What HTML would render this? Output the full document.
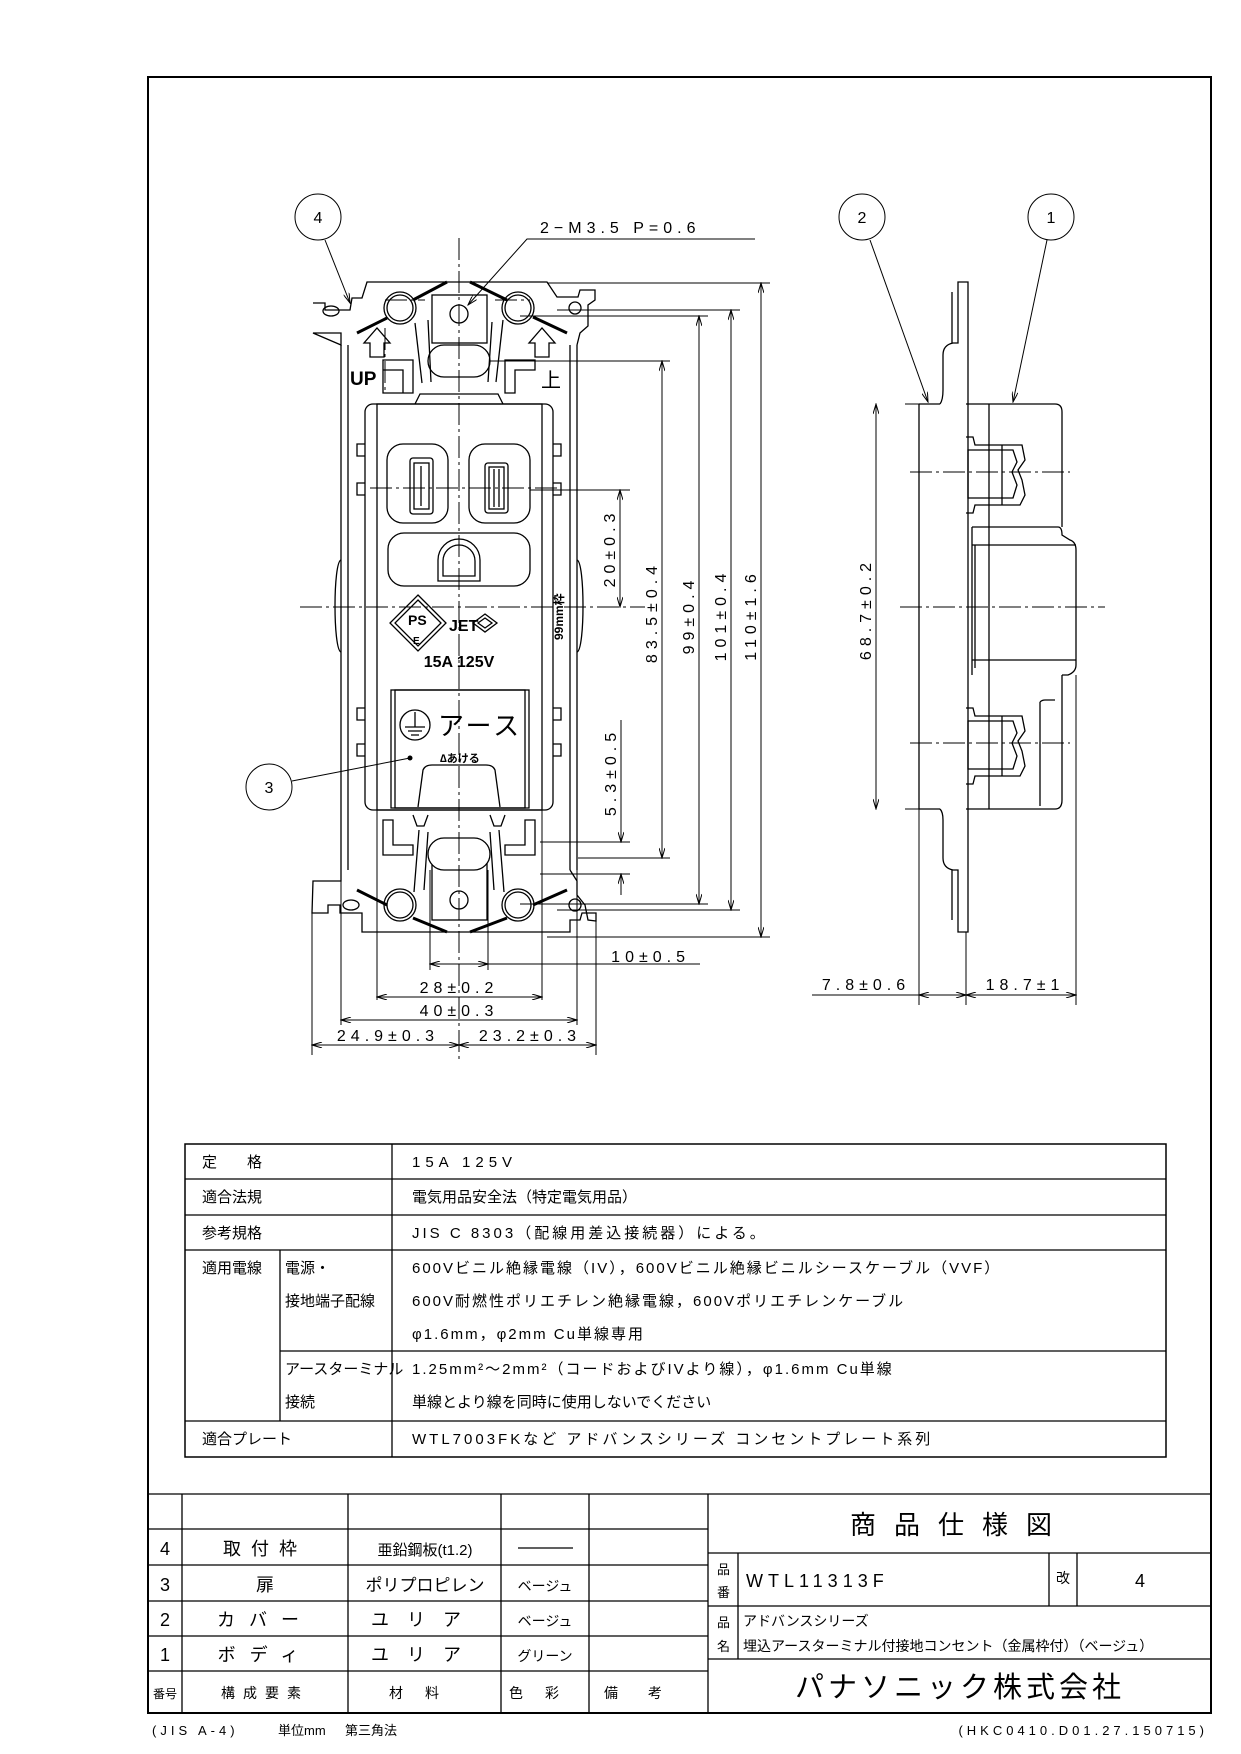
<!DOCTYPE html>
<html><head><meta charset="utf-8"><style>
body{margin:0;background:#fff}
svg{display:block}
text{font-family:"Liberation Sans","Noto Sans CJK JP",sans-serif;fill:#000}
.d{font-size:16px;letter-spacing:5px}
.t{font-size:15px}
</style></head><body>
<svg width="1241" height="1754" viewBox="0 0 1241 1754" xmlns="http://www.w3.org/2000/svg">
<defs>
<marker id="a" viewBox="0 0 10 6" refX="10" refY="3" markerWidth="12" markerHeight="6" orient="auto-start-reverse" markerUnits="userSpaceOnUse"><path d="M0,0 L10,3 L0,6" fill="none" stroke="#000" stroke-width="1"/></marker>
</defs>
<!-- page frame -->
<rect x="148" y="77" width="1063" height="1636" fill="none" stroke="#000" stroke-width="2"/>

<g fill="none" stroke="#000" stroke-width="1.3">
<!-- ===== FRONT VIEW ===== -->
<path d="M313,303 L325,303 L325,310 L350,310 L352,298 L362,298 L367,282 L547,282 L557,297 L578,297 L580,290 L595,290 L595,300 L588,305 L588,326 L580,333 L577,345 M341,345 L341,333 L313,333 Z"/>
<path d="M357,333 L387,318 M413,300 L447,282 M470,282 L507,300 M533,317 L567,333" stroke-width="3"/>
<ellipse cx="331" cy="311" rx="8" ry="5"/>
<circle cx="575" cy="308" r="6"/>
<circle cx="400" cy="308" r="16"/><circle cx="400" cy="308" r="13"/>
<circle cx="518" cy="308" r="16"/><circle cx="518" cy="308" r="13"/>
<circle cx="459" cy="314" r="9"/>
<rect x="432" y="295" width="55" height="48"/>
<rect x="428" y="345" width="62" height="32" rx="16" fill="#fff"/>
<path d="M415,323 L422,383 M428,320 L431,382 M503,320 L496,382 M492,322 L488,382"/>
<path d="M370,357 L370,343 L364,343 L377,328 L390,343 L384,343 L384,357 Z"/>
<path d="M535,357 L535,343 L529,343 L542,328 L555,343 L549,343 L549,357 Z"/>
<path d="M383,360 L413,360 L413,393 L403,393 L403,370 L383,370 Z M383,370 L383,393 L403,393"/>
<path d="M505,360 L535,360 L535,370 L515,370 L515,393 L505,393 Z"/>
<path d="M341,345 L341,870 M348,345 L348,870 M570,345 L570,870 M577,345 L577,870"/>
<path d="M341,560 C333,562 333,650 341,652 M577,560 C585,562 585,650 577,652"/>
<rect x="365" y="404" width="188" height="406" rx="8"/>
<rect x="377" y="404" width="165" height="406"/>
<path d="M365,444 h-8 v12 h8 M365,483 h-8 v12 h8 M365,708 h-8 v12 h8 M365,744 h-8 v12 h8 M553,444 h8 v12 h-8 M553,483 h8 v12 h-8 M553,708 h8 v12 h-8 M553,744 h8 v12 h-8"/>
<path d="M415,404 L420,394 L498,394 L503,404"/>
<rect x="387" y="444" width="61" height="79" rx="16"/>
<rect x="469" y="444" width="61" height="79" rx="16"/>
<rect x="410" y="458" width="23" height="56" rx="3"/><rect x="414" y="463" width="15" height="46"/><path d="M421,466 V506"/>
<rect x="485" y="463" width="23" height="50" rx="3"/><rect x="489" y="467" width="15" height="42"/><path d="M494,469 V507 M499,469 V507"/>
<rect x="388" y="533" width="142" height="53" rx="16"/>
<path d="M438,581 L438,560 A21,21 0 0 1 480,560 L480,581 Z M443,576 L443,561 A16,16 0 0 1 475,561 L475,576 Z"/>
<path d="M418,595 L446,623 L418,651 L390,623 Z M418,600 L441,623 L418,646 L395,623 Z"/>
<path d="M485,614 L497,623 L485,632 L473,623 Z M485,618 L492,623 L485,628 L478,623 Z"/>
<rect x="391" y="690" width="138" height="118"/>
<rect x="395" y="690" width="130" height="118"/>
<circle cx="415" cy="725" r="15"/>
<path d="M415,712 V727 M405,727 H425 M408,731 H422 M411,735 H419"/>
<path d="M418,807 L423,770 Q425,765 432,765 L486,765 Q493,765 495,770 L500,807"/>
<path d="M383,820 L393,820 L393,845 L413,845 L413,855 L383,855 Z M535,820 L525,820 L525,845 L505,845 L505,855 L535,855 Z"/>
<path d="M413,815 L417,826 L424,826 L428,815 M490,815 L494,826 L501,826 L505,815"/>
<rect x="432" y="855" width="55" height="65"/>
<rect x="428" y="838" width="62" height="32" rx="16" fill="#fff"/>
<path d="M419,830 L414,892 M428,832 L424,890 M499,830 L504,892 M490,832 L494,890"/>
<path d="M341,870 L341,881 L313,881 L312,913 L328,913 L328,905 L340,905 L340,913 L362,913 L362,932 L570,932 L570,920 L580,920 L582,913 L596,913 L596,921 L588,920 L585,905 L577,895 L577,881 L570,870"/>
<path d="M357,890 L387,905 M413,918 L447,932 M470,932 L507,918 M533,905 L567,890" stroke-width="3"/>
<ellipse cx="351" cy="905" rx="8" ry="5"/>
<circle cx="575" cy="905" r="6"/>
<circle cx="400" cy="905" r="16"/><circle cx="400" cy="905" r="13"/>
<circle cx="518" cy="905" r="16"/><circle cx="518" cy="905" r="13"/>
<circle cx="459" cy="900" r="9"/>
</g>

<g stroke="#000" stroke-width="1" stroke-dasharray="22,4,3,4" fill="none">
<path d="M459,238 V1060"/>
<path d="M300,607 H645"/>
<path d="M370,488 H560"/>
<path d="M385,328 V390 M385,300 H425 M495,300 H530"/>
<path d="M900,607 H1105"/>
<path d="M910,472 H1070"/>
<path d="M910,743 H1070"/>
</g>

<g stroke="#000" stroke-width="1" fill="none">
<path d="M312,913 V1055 M596,913 V1055 M341,870 V1025 M577,870 V1025 M377,810 V1000 M542,810 V1000 M430,870 V970 M488,870 V970"/>
<path d="M430,964 H488" marker-start="url(#a)" marker-end="url(#a)"/>
<path d="M488,964 H700"/>
<path d="M377,997 H542" marker-start="url(#a)" marker-end="url(#a)"/>
<path d="M341,1020 H577" marker-start="url(#a)" marker-end="url(#a)"/>
<path d="M312,1045 H459" marker-start="url(#a)" marker-end="url(#a)"/>
<path d="M459,1045 H596" marker-start="url(#a)" marker-end="url(#a)"/>
<path d="M547,283 H770 M557,310 H740 M520,316 H708 M490,361 H670 M530,490 H630 M578,858 H670 M540,842 H630 M540,874 H630 M520,904 H708 M557,910 H740 M547,937 H770"/>
<path d="M761,283 V937" marker-start="url(#a)" marker-end="url(#a)"/>
<path d="M731,310 V910" marker-start="url(#a)" marker-end="url(#a)"/>
<path d="M699,316 V904" marker-start="url(#a)" marker-end="url(#a)"/>
<path d="M662,361 V858" marker-start="url(#a)" marker-end="url(#a)"/>
<path d="M620,490 V607" marker-start="url(#a)" marker-end="url(#a)"/>
<path d="M621,720 V842" marker-end="url(#a)"/>
<path d="M621,895 V874" marker-end="url(#a)"/>
<path d="M755,239 H527 L468,305" marker-end="url(#a)"/>
<circle cx="318" cy="217" r="23"/>
<path d="M325,240 L350,303" marker-end="url(#a)"/>
<circle cx="269" cy="787" r="23"/>
<path d="M292,781 L410,758"/>
<circle cx="862" cy="217" r="23"/>
<path d="M870,240 L928,402" marker-end="url(#a)"/>
<circle cx="1051" cy="217" r="23"/>
<path d="M1047,240 L1013,402" marker-end="url(#a)"/>
</g>
<circle cx="410" cy="758" r="2.5" fill="#000"/>

<!-- ===== SIDE VIEW ===== -->
<g fill="none" stroke="#000" stroke-width="1.3">
<path d="M919,404 V809 M919,404 H940 M919,809 H940"/>
<path d="M940,404 Q943,400 943,390 L943,355 Q943,345 953,343 L958,343 L958,282 L968,282 L968,932 L958,932 L958,870 L953,870 Q943,868 943,858 L943,820 Q943,812 940,809"/>
<path d="M952,292 V343 M952,870 V920"/>
<path d="M966,404 H1055 Q1062,404 1062,412 V527"/>
<path d="M966,809 H1055 Q1062,809 1062,800 V675"/>
<path d="M989,404 V809"/>
<path d="M972,527 H1058 Q1062,527 1062,535 L1070,540 Q1076,542 1076,550 V665 Q1076,672 1068,675 L1062,675"/>
<path d="M972,527 V675 M975,545 V668 M972,545 H1076 M972,660 H1076"/>
<path d="M966,437 H973 L975,445 L988,445 L1022,445 L1025,460 L1018,470 L1022,480 L1025,495 L1020,505 L988,505 L975,505 L973,513 H966"/>
<path d="M968,450 H1013 L1017,462 L1012,472 L1017,485 L1013,498 H968 Z"/>
<path d="M1002,445 V505"/>
<path d="M966,708 H973 L975,716 L988,716 L1022,716 L1025,731 L1018,741 L1022,751 L1025,766 L1020,776 L988,776 L975,776 L973,784 H966"/>
<path d="M968,721 H1013 L1017,733 L1012,743 L1017,756 L1013,769 H968 Z"/>
<path d="M1002,716 V776"/>
<path d="M1040,702 Q1042,700 1045,700 L1055,700 M1040,702 V806"/>
</g>
<g stroke="#000" stroke-width="1" fill="none">
<path d="M905,404 H919 M905,809 H919"/>
<path d="M876,404 V809" marker-start="url(#a)" marker-end="url(#a)"/>
<path d="M919,809 V1005 M966,932 V1005 M1076,675 V1005"/>
<path d="M812,995 H919" /><path d="M919,995 H966" marker-start="url(#a)" marker-end="url(#a)"/>
<path d="M966,995 H1076" marker-start="url(#a)" marker-end="url(#a)"/>
</g>

<text x="318" y="223" font-size="16" text-anchor="middle">4</text>
<text x="269" y="793" font-size="16" text-anchor="middle">3</text>
<text x="862" y="223" font-size="16" text-anchor="middle">2</text>
<text x="1051" y="223" font-size="16" text-anchor="middle">1</text>
<text x="540" y="233" class="d">2−M3.5 P=0.6</text>
<text x="350" y="385" font-size="19" font-weight="bold">UP</text>
<text x="541" y="387" font-size="20">上</text>
<text x="408" y="625" font-size="14" font-weight="bold">PS</text>
<text x="413" y="644" font-size="10" font-weight="bold">E</text>
<text x="449" y="631" font-size="16" font-weight="bold">JET</text>
<text x="0" y="0" font-size="12" font-weight="bold" transform="translate(563,640) rotate(-90)">99mm枠</text>
<text x="459" y="667" font-size="16" font-weight="bold" text-anchor="middle">15A 125V</text>
<text x="438" y="735" font-size="26" letter-spacing="3">アース</text>
<text x="440" y="762" font-size="11" font-weight="bold">∆あける</text>
<text x="690" y="962" class="d" text-anchor="end">10±0.5</text>
<text x="459" y="993" class="d" text-anchor="middle">28±0.2</text>
<text x="459" y="1016" class="d" text-anchor="middle">40±0.3</text>
<text x="388" y="1041" class="d" text-anchor="middle">24.9±0.3</text>
<text x="530" y="1041" class="d" text-anchor="middle">23.2±0.3</text>
<text x="866" y="990" class="d" text-anchor="middle">7.8±0.6</text>
<text x="1025" y="990" class="d" text-anchor="middle">18.7±1</text>
<g class="d">
<text transform="translate(756,615) rotate(-90)" text-anchor="middle">110±1.6</text>
<text transform="translate(726,615) rotate(-90)" text-anchor="middle">101±0.4</text>
<text transform="translate(694,615) rotate(-90)" text-anchor="middle">99±0.4</text>
<text transform="translate(657,612) rotate(-90)" text-anchor="middle">83.5±0.4</text>
<text transform="translate(615,548) rotate(-90)" text-anchor="middle">20±0.3</text>
<text transform="translate(616,772) rotate(-90)" text-anchor="middle">5.3±0.5</text>
<text transform="translate(871,609) rotate(-90)" text-anchor="middle">68.7±0.2</text>
</g>

<!-- spec table -->
<g stroke="#000" fill="none">
<rect x="185" y="1144" width="981" height="313" stroke-width="1.5"/>
<path d="M392,1144 V1457 M280,1250 V1421 M185,1179 H1166 M185,1215 H1166 M185,1250 H1166 M280,1351 H1166 M185,1421 H1166" stroke-width="1.3"/>
</g>
<g class="t">
<text x="202" y="1167">定　　格</text>
<text x="202" y="1202">適合法規</text>
<text x="202" y="1238">参考規格</text>
<text x="202" y="1273">適用電線</text>
<text x="285" y="1273">電源・</text>
<text x="285" y="1306">接地端子配線</text>
<text x="285" y="1374">アースターミナル</text>
<text x="285" y="1407">接続</text>
<text x="202" y="1444">適合プレート</text>
<text x="412" y="1167" letter-spacing="5">15A 125V</text>
<text x="412" y="1202">電気用品安全法（特定電気用品）</text>
<text x="412" y="1238" letter-spacing="3">JIS C 8303（配線用差込接続器）による。</text>
<text x="412" y="1273" letter-spacing="2">600Vビニル絶縁電線（IV），600Vビニル絶縁ビニルシースケーブル（VVF）</text>
<text x="412" y="1306" letter-spacing="2">600V耐燃性ポリエチレン絶縁電線，600Vポリエチレンケーブル</text>
<text x="412" y="1339" letter-spacing="2">φ1.6mm，φ2mm Cu単線専用</text>
<text x="412" y="1374" letter-spacing="2">1.25mm²～2mm²（コードおよびIVより線），φ1.6mm Cu単線</text>
<text x="412" y="1407">単線とより線を同時に使用しないでください</text>
<text x="412" y="1444" letter-spacing="3">WTL7003FKなど アドバンスシリーズ コンセントプレート系列</text>
</g>

<!-- title block -->
<g stroke="#000" fill="none" stroke-width="1.3">
<path d="M148,1494 H1211"/>
<path d="M148,1529 H708 M148,1565 H708 M148,1601 H708 M148,1636 H708 M148,1671 H708"/>
<path d="M182,1494 V1713 M348,1494 V1713 M501,1494 V1713 M589,1494 V1713 M708,1494 V1713"/>
<path d="M708,1553 H1211 M708,1606 H1211 M708,1659 H1211 M738,1553 V1659 M1049,1553 V1606 M1077,1553 V1606"/>
</g>
<g font-size="18">
<text x="165" y="1555" text-anchor="middle">4</text>
<text x="165" y="1591" text-anchor="middle">3</text>
<text x="165" y="1626" text-anchor="middle">2</text>
<text x="165" y="1661" text-anchor="middle">1</text>
<text x="265" y="1555" text-anchor="middle" letter-spacing="10">取付枠</text>
<text x="265" y="1591" text-anchor="middle">扉</text>
<text x="265" y="1626" text-anchor="middle" letter-spacing="14">カバー</text>
<text x="265" y="1661" text-anchor="middle" letter-spacing="14">ボディ</text>
<text x="425" y="1591" text-anchor="middle" font-size="17">ポリプロピレン</text>
<text x="425" y="1626" text-anchor="middle" letter-spacing="18">ユリア</text>
<text x="425" y="1661" text-anchor="middle" letter-spacing="18">ユリア</text>
</g>
<text x="425" y="1555" text-anchor="middle" font-size="15">亜鉛鋼板(t1.2)</text>
<path d="M518,1548 H573" stroke="#000" stroke-width="1.3"/>
<g font-size="14">
<text x="545" y="1591" text-anchor="middle">ベージュ</text>
<text x="545" y="1626" text-anchor="middle">ベージュ</text>
<text x="545" y="1661" text-anchor="middle">グリーン</text>
<text x="165" y="1698" text-anchor="middle" font-size="12">番号</text>
<text x="265" y="1698" text-anchor="middle" letter-spacing="8">構成要素</text>
<text x="425" y="1698" text-anchor="middle" letter-spacing="22">材料</text>
<text x="545" y="1698" text-anchor="middle" letter-spacing="22">色彩</text>
<text x="648" y="1698" text-anchor="middle" letter-spacing="30">備考</text>
</g>
<text x="960" y="1534" font-size="26" text-anchor="middle" letter-spacing="18">商品仕様図</text>
<text x="717" y="1574" font-size="13">品</text><text x="717" y="1597" font-size="13">番</text>
<text x="746" y="1587" font-size="18" letter-spacing="5">WTL11313F</text>
<text x="1056" y="1583" font-size="14">改</text>
<text x="1135" y="1587" font-size="18">4</text>
<text x="717" y="1627" font-size="13">品</text><text x="717" y="1651" font-size="13">名</text>
<text x="743" y="1626" font-size="14">アドバンスシリーズ</text>
<text x="743" y="1651" font-size="14">埋込アースターミナル付接地コンセント（金属枠付）（ベージュ）</text>
<text x="960" y="1697" font-size="29" text-anchor="middle" letter-spacing="4">パナソニック株式会社</text>
<text x="152" y="1735" font-size="13" letter-spacing="4">(JIS A-4)</text>
<text x="278" y="1735" font-size="13">単位mm</text>
<text x="345" y="1735" font-size="13">第三角法</text>
<text x="1208" y="1735" font-size="13" text-anchor="end" letter-spacing="4">(HKC0410.D01.27.150715)</text>
</svg>
</body></html>
